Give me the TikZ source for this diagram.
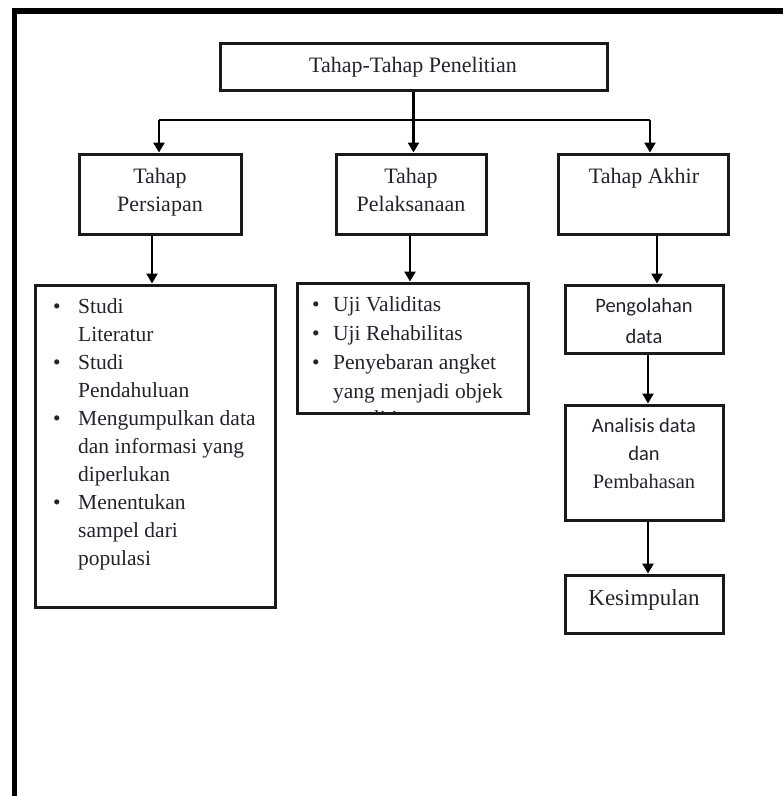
\documentclass[tikz,border=0pt]{standalone}
\usepackage{fontspec}
\setmainfont{Liberation Serif}
\newfontfamily\calib{Carlito}
\usetikzlibrary{arrows.meta}
\definecolor{ink}{HTML}{23232E}
\definecolor{edge}{HTML}{1A1A1A}
\begin{document}
\begin{tikzpicture}[x=1pt,y=-1pt,
  box/.style={draw=edge,line width=3pt,rectangle,inner sep=0pt},
  txt/.style={inner sep=0pt,text height=15pt,text depth=5pt,text=ink},
  big/.style={txt,font=\fontsize{22}{26}\selectfont},
  lst/.style={txt,font=\fontsize{21.5}{26}\selectfont,anchor=west},
  sans/.style={txt,font=\calib\fontsize{20.5}{24}\selectfont},
  conn/.style={draw=black,line width=2.6pt,-{Triangle[width=11pt,length=10pt]}}]
\useasboundingbox (0,0) rectangle (783,796);
% outer frame
\draw[line width=5.5pt,line join=miter] (790,11) -- (14.5,11) -- (14.5,800);
% boxes
\node[box,minimum width=387pt,minimum height=47pt] (top) at (413.5,66.5) {};
\node[box,minimum width=162pt,minimum height=80pt] (per) at (160,194) {};
\node[box,minimum width=150pt,minimum height=80pt] (pel) at (411,194) {};
\node[box,minimum width=170pt,minimum height=80pt] (akh) at (643,194) {};
\node[box,minimum width=240pt,minimum height=322pt] (lst1) at (155,446) {};
\node[box,minimum width=231pt,minimum height=130pt] (lst2) at (412.5,348) {};
\node[box,minimum width=158pt,minimum height=68pt] (peng) at (644,319) {};
\node[box,minimum width=158pt,minimum height=115pt] (anal) at (644,462.5) {};
\node[box,minimum width=158pt,minimum height=58pt] (kes) at (644,604) {};
% texts
\node[big] (ttop) at (413,67) {Tahap-Tahap Penelitian};
\node[big] (tper1) at (160,178) {Tahap};
\node[big] (tper2) at (160,206) {Persiapan};
\node[big] (tpel1) at (411,178) {Tahap};
\node[big] (tpel2) at (411,206) {Pelaksanaan};
\node[big] (takh) at (644,178) {Tahap Akhir};
% left list
\foreach \t [count=\i from 0] in {Studi,Literatur,Studi,Pendahuluan,Mengumpulkan data,dan informasi yang,diperlukan,Menentukan,sampel dari,populasi}
  \node[lst] (l\i) at (78,308+28.1*\i) {\t};
\foreach \i in {0,2,4,7}
  \node[txt,font=\fontsize{21.5}{26}\selectfont] (b\i) at (57,308+28.1*\i) {\textbullet};
% middle list
\foreach \t [count=\i from 0] in {Uji Validitas,Uji Rehabilitas,Penyebaran angket,yang menjadi objek}
  \node[lst] (m\i) at (333,306+29*\i) {\t};
\begin{scope}
\clip (298.5,403) rectangle (526.5,411.5);
\node[lst] (m4) at (333,420) {penelitian};
\end{scope}
\foreach \i in {0,1,2}
  \node[txt,font=\fontsize{21.5}{26}\selectfont] (mb\i) at (316,306+29*\i) {\textbullet};
% right column texts
\node[sans] (pg1) at (644,307) {Pengolahan};
\node[sans] (pg2) at (644,338) {data};
\node[sans] (an1) at (644,427) {Analisis data};
\node[sans] (an2) at (644,455) {dan};
\node[txt,font=\fontsize{20.5}{24}\selectfont] (an3) at (644,483) {Pembahasan};
\node[txt,font=\fontsize{23}{26}\selectfont] (ks) at (644,600) {Kesimpulan};
% connectors
\coordinate (bus) at (413.5,120);
\draw[line width=2.6pt] ([xshift=-254.5pt]bus) -- ([xshift=236.5pt]bus);
\draw[conn] (top.south) -- (top.south |- pel.north);
\draw[conn] ([xshift=-254.5pt]bus) -- ([xshift=-254.5pt]bus |- per.north);
\draw[conn] ([xshift=236.5pt]bus) -- ([xshift=236.5pt]bus |- akh.north);
\draw[conn] ([xshift=-8pt]per.south) -- ([xshift=-8pt]per.south |- lst1.north);
\draw[conn] ([xshift=-1pt]pel.south) -- ([xshift=-1pt]pel.south |- lst2.north);
\draw[conn] ([xshift=14pt]akh.south) -- ([xshift=14pt]akh.south |- peng.north);
\draw[conn] ([xshift=4pt]peng.south) -- ([xshift=4pt]peng.south |- anal.north);
\draw[conn] ([xshift=4pt]anal.south) -- ([xshift=4pt]anal.south |- kes.north);
\end{tikzpicture}
\end{document}
